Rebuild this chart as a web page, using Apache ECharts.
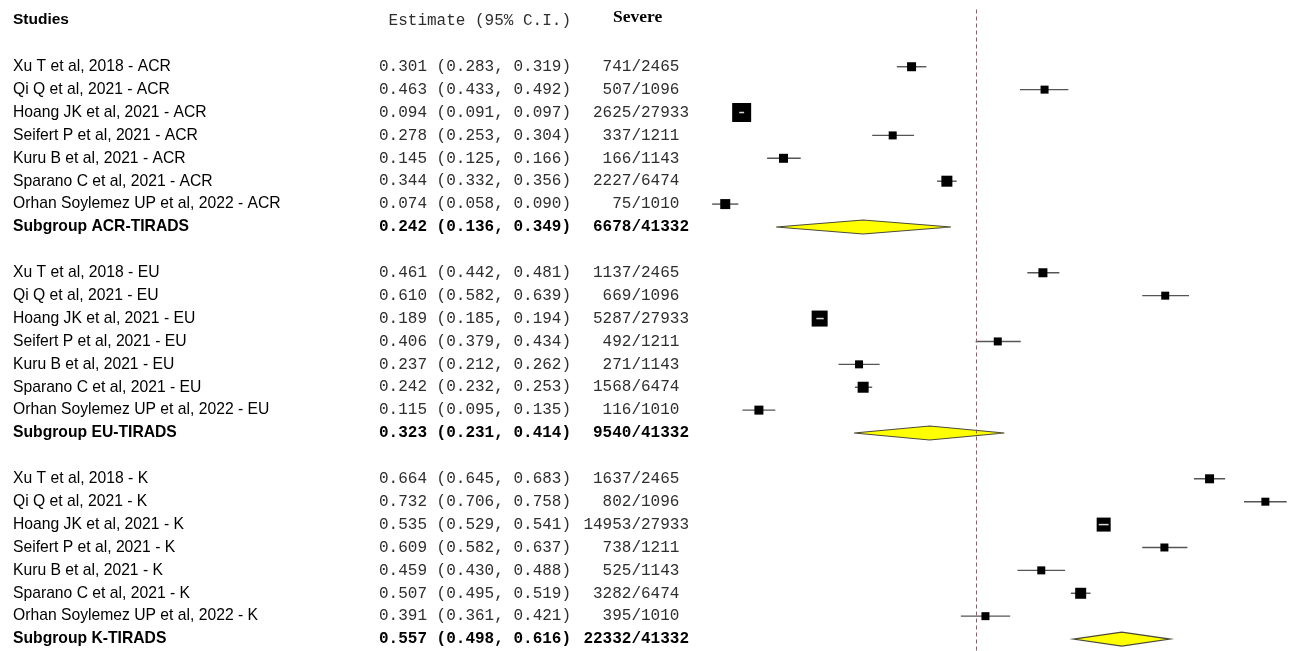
<!DOCTYPE html>
<html>
<head>
<meta charset="utf-8">
<script src="https://cdn.jsdelivr.net/npm/echarts@6/dist/echarts.min.js"></script>
<style>
  html, body { margin: 0; padding: 0; background: #fff; }
  #main { width: 1295px; height: 651px; }
</style>
</head>
<body>
<div id="main"></div>
<script>
// Study labels and sample sizes (shared by every TIRADS subgroup)
const studies = ['Xu T et al, 2018', 'Qi Q et al, 2021', 'Hoang JK et al, 2021', 'Seifert P et al, 2021',
                 'Kuru B et al, 2021', 'Sparano C et al, 2021', 'Orhan Soylemez UP et al, 2022'];
const totals = [2465, 1096, 27933, 1211, 1143, 6474, 1010];

// ACR-TIRADS
const acrEstimate = [0.301, 0.463, 0.094, 0.278, 0.145, 0.344, 0.074];
const acrLower    = [0.283, 0.433, 0.091, 0.253, 0.125, 0.332, 0.058];
const acrUpper    = [0.319, 0.492, 0.097, 0.304, 0.166, 0.356, 0.090];
const acrEvents   = [741, 507, 2625, 337, 166, 2227, 75];

// EU-TIRADS
const euEstimate = [0.461, 0.610, 0.189, 0.406, 0.237, 0.242, 0.115];
const euLower    = [0.442, 0.582, 0.185, 0.379, 0.212, 0.232, 0.095];
const euUpper    = [0.481, 0.639, 0.194, 0.434, 0.262, 0.253, 0.135];
const euEvents   = [1137, 669, 5287, 492, 271, 1568, 116];

// K-TIRADS
const kEstimate = [0.664, 0.732, 0.535, 0.609, 0.459, 0.507, 0.391];
const kLower    = [0.645, 0.706, 0.529, 0.582, 0.430, 0.495, 0.361];
const kUpper    = [0.683, 0.758, 0.541, 0.637, 0.488, 0.519, 0.421];
const kEvents   = [1637, 802, 14953, 738, 525, 3282, 395];

// Pooled subgroup results
const subgroupTags     = ['ACR', 'EU', 'K'];
const subgroupNames    = ['Subgroup ACR-TIRADS', 'Subgroup EU-TIRADS', 'Subgroup K-TIRADS'];
const subgroupEstimate = [0.242, 0.323, 0.557];
const subgroupLower    = [0.136, 0.231, 0.498];
const subgroupUpper    = [0.349, 0.414, 0.616];
const subgroupEvents   = [6678, 9540, 22332];
const subgroupTotal    = 41332;

// Overall pooled estimate (dashed reference line)
const overallEstimate = 0.375;

const headerStudies = 'Studies';
const headerEstimate = 'Estimate (95% C.I.)';
const headerCount = 'Severe';

// ---- layout ----
const SANS = '"Liberation Sans", Arial, sans-serif';
const MONO = '"Liberation Mono", "Courier New", monospace';
const SERIF = '"Liberation Serif", "Times New Roman", serif';
const MONO_SIZE = 16;
const CHAR_W = MONO_SIZE * 0.6;
const NAME_X = 13;
const EST_X = 379;
const COUNT_RIGHT = 689;
const ROW_COUNT = 28;
const MONO_FILL = '#2e2e2e';

function roundHalfEven(v) {
  const f = Math.floor(v);
  const d = v - f;
  if (Math.abs(d - 0.5) < 1e-9) return f % 2 === 0 ? f : f + 1;
  return Math.round(v);
}
const fmt = v => v.toFixed(3);

const groupData = [
  { est: acrEstimate, lo: acrLower, hi: acrUpper, ev: acrEvents },
  { est: euEstimate,  lo: euLower,  hi: euUpper,  ev: euEvents },
  { est: kEstimate,   lo: kLower,   hi: kUpper,   ev: kEvents }
];

const rows = [{ row: 0, kind: 'header', est: 0, lo: 0, hi: 0 }];
groupData.forEach((g, gi) => {
  const base = 2 + gi * 9;
  const counts = g.ev.map((e, i) => e + '/' + totals[i]);
  const subCount = subgroupEvents[gi] + '/' + subgroupTotal;
  const width = Math.max(subCount.length, ...counts.map(c => c.length));
  studies.forEach((s, i) => {
    rows.push({
      row: base + i, kind: 'study',
      label: s + ' - ' + subgroupTags[gi],
      est: g.est[i], lo: g.lo[i], hi: g.hi[i],
      count: counts[i], field: width
    });
  });
  rows.push({
    row: base + 7, kind: 'subgroup',
    label: subgroupNames[gi],
    est: subgroupEstimate[gi], lo: subgroupLower[gi], hi: subgroupUpper[gi],
    count: subCount, field: width
  });
});

function textEl(x, y, str, font, fill) {
  return { type: 'text', style: { x: x, y: y, text: str, font: font, fill: fill, align: 'left', verticalAlign: 'middle' } };
}

function renderItem(params, api) {
  const r = rows[params.dataIndex];
  const y = api.coord([0, r.row])[1];
  const children = [];
  if (r.kind === 'header') {
    children.push(textEl(NAME_X, y - 1, headerStudies, 'bold 15.5px ' + SANS, '#000'));
    children.push(textEl(EST_X + CHAR_W, y, headerEstimate, MONO_SIZE + 'px ' + MONO, MONO_FILL));
    children.push(textEl(613, y - 3, headerCount, 'bold 17.5px ' + SERIF, '#000'));
    return { type: 'group', children: children };
  }
  const bold = r.kind === 'subgroup';
  const xe = api.coord([r.est, r.row])[0];
  const xl = api.coord([r.lo, r.row])[0];
  const xh = api.coord([r.hi, r.row])[0];

  // text columns
  children.push(textEl(NAME_X, y, r.label, (bold ? 'bold ' : '') + '15.7px ' + SANS, '#000'));
  const estStr = fmt(r.est) + ' (' + fmt(r.lo) + ', ' + fmt(r.hi) + ')';
  children.push(textEl(EST_X, y, estStr, (bold ? 'bold ' : '') + MONO_SIZE + 'px ' + MONO, bold ? '#000' : MONO_FILL));
  const pad = roundHalfEven((r.field - r.count.length) / 2);
  const cx = COUNT_RIGHT - r.field * CHAR_W + pad * CHAR_W;
  children.push(textEl(cx, y, r.count, (bold ? 'bold ' : '') + MONO_SIZE + 'px ' + MONO, bold ? '#000' : MONO_FILL));

  if (bold) {
    const hh = 7;
    children.push({
      type: 'polygon',
      shape: { points: [[xl, y], [xe, y - hh], [xh, y], [xe, y + hh]] },
      style: { fill: '#ffff00', stroke: '#4a4a3a', lineWidth: 1.2 }
    });
  } else {
    // square area reflects study precision (narrower interval -> larger box)
    const s = Math.round(2.45 * Math.pow(r.hi - r.lo, -0.4));
    children.push({
      type: 'line', shape: { x1: xl, y1: y, x2: xh, y2: y },
      style: { stroke: '#555', lineWidth: 1.4 }
    });
    children.push({
      type: 'rect', shape: { x: xe - s / 2, y: y - s / 2, width: s, height: s },
      style: { fill: '#000' }
    });
    if (xh - xl < s - 2) {
      children.push({
        type: 'line', shape: { x1: xl, y1: y, x2: xh, y2: y },
        style: { stroke: '#d8d8d8', lineWidth: 1.5 }
      });
    }
  }
  return { type: 'group', children: children };
}

const chart = echarts.init(document.getElementById('main'), null, { renderer: 'canvas' });
chart.setOption({
  animation: false,
  backgroundColor: '#fff',
  grid: { left: 664.5, right: 5, top: 9.5, bottom: 0.5 },
  xAxis: {
    type: 'value', min: 0, max: 0.762, show: false,
    splitLine: { show: false }
  },
  yAxis: {
    type: 'value', min: -0.5, max: ROW_COUNT - 0.5, inverse: true, show: false,
    splitLine: { show: false }
  },
  series: [{
    type: 'custom',
    clip: false,
    renderItem: renderItem,
    encode: { x: [1, 2, 3], y: 0 },
    data: rows.map(r => [r.row, r.est, r.lo, r.hi]),
    markLine: {
      silent: true,
      symbol: 'none',
      label: { show: false },
      emphasis: { disabled: true },
      lineStyle: { type: [4, 3], color: '#95586f', width: 1, opacity: 1 },
      data: [{ xAxis: overallEstimate }]
    }
  }]
});
</script>
</body>
</html>
